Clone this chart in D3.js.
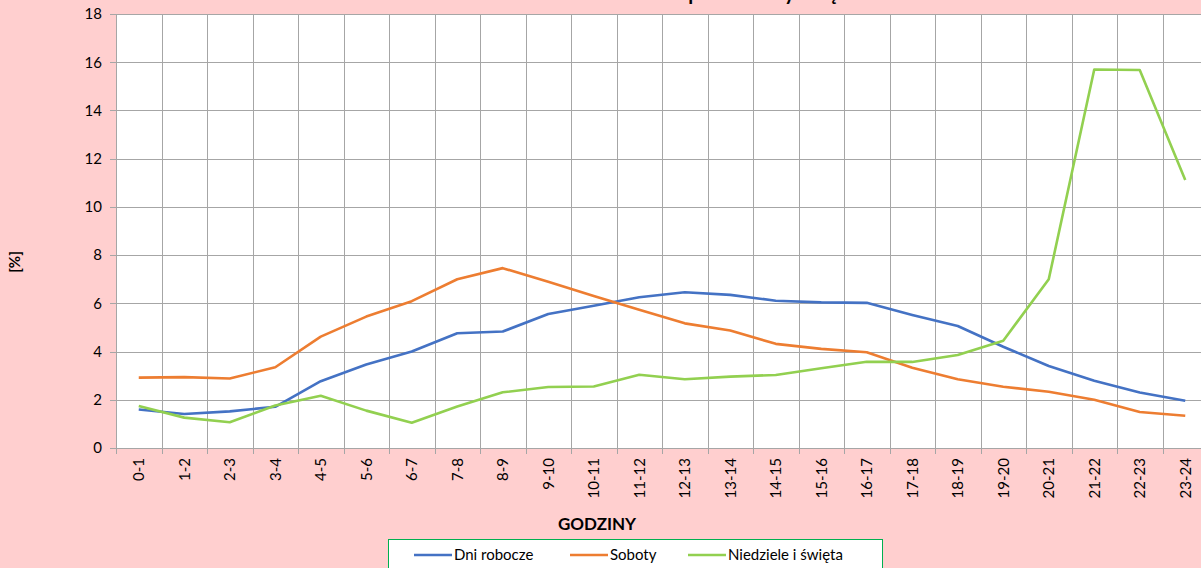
<!DOCTYPE html>
<html>
    <head>
        <meta http-equiv="Content-Type" content="text/html;charset=utf-8">
        <script src="https://d3js.org/d3.v7.min.js"></script>
        <title>Rozkład godzinowy ruchu</title>
        <style>
            body { margin:0; background:#ffcfcf; overflow:hidden; }
            svg { display:block; font-family: Lato, "Open Sans", sans-serif; }
        </style>
    </head>
    <body>
        <svg width="1201" height="568"></svg>
    </body>
    <script>
        // godziny doby
        var hours = ["0-1","1-2","2-3","3-4","4-5","5-6","6-7","7-8","8-9","9-10","10-11","11-12",
                     "12-13","13-14","14-15","15-16","16-17","17-18","18-19","19-20","20-21","21-22","22-23","23-24"];

        var dniRobocze = [1.6,1.41,1.52,1.71,2.77,3.46,4.0,4.76,4.83,5.56,5.9,6.25,
                          6.46,6.35,6.11,6.04,6.02,5.52,5.06,4.2,3.4,2.79,2.3,1.96];
        var soboty     = [2.92,2.94,2.88,3.35,4.62,5.45,6.09,7.0,7.46,6.9,6.3,5.73,
                          5.17,4.87,4.32,4.11,3.97,3.33,2.85,2.54,2.33,2.0,1.49,1.34];
        var niedziele  = [1.74,1.26,1.07,1.76,2.17,1.55,1.05,1.72,2.31,2.53,2.55,3.04,
                          2.85,2.96,3.03,3.31,3.58,3.57,3.86,4.45,7.0,15.7,15.68,11.12];

        var seriesNames = ["Dni robocze","Soboty","Niedziele i święta"];
        var seriesColors = ["#4472c4","#ed7d31","#92d050"];
        var series = [dniRobocze, soboty, niedziele];
        var yTicks = [0,2,4,6,8,10,12,14,16,18];

        var svg = d3.select("svg");

        var plotL = 116, plotR = 1208, plotT = 14, plotB = 448;

        var x = d3.scaleBand()
            .domain(hours)
            .range([plotL, plotR])
            .padding(0);

        var y = d3.scaleLinear()
            .domain([0, 18])
            .range([plotB, plotT]);

        // tytul (prawie caly poza kadrem, widac tylko ogonki liter)
        svg.append("text")
            .attr("x", 612)
            .attr("y", 0)
            .style("font-weight","bold")
            .style("font-size","20px")
            .text("Rozkład procentowy natężenia ruchu");

        // obszar wykresu
        svg.append("rect")
            .attr("x", plotL)
            .attr("y", plotT)
            .attr("width", plotR - plotL)
            .attr("height", plotB - plotT)
            .attr("fill", "#ffffff");

        var grid = svg.append("g").attr("class","grid");

        grid.selectAll("line.h")
            .data(yTicks)
            .enter()
            .append("line")
                .attr("class","h")
                .attr("x1", plotL - 6)
                .attr("x2", plotR)
                .attr("y1", function(d){ return Math.round(y(d)) + 0.5; })
                .attr("y2", function(d){ return Math.round(y(d)) + 0.5; })
                .attr("stroke", "#a6a6a6")
                .attr("stroke-width", 1);

        grid.selectAll("line.v")
            .data(hours)
            .enter()
            .append("line")
                .attr("class","v")
                .attr("x1", function(d){ return Math.round(x(d)) + 0.5; })
                .attr("x2", function(d){ return Math.round(x(d)) + 0.5; })
                .attr("y1", plotT)
                .attr("y2", plotB + 6)
                .attr("stroke", "#a6a6a6")
                .attr("stroke-width", 1);

        // os Y
        var yAxis = svg.append("g")
            .attr("transform", "translate(" + (plotL - 14) + ",0)")
            .call(d3.axisLeft(y).tickValues(yTicks).tickSize(0).tickPadding(0));
        yAxis.select(".domain").remove();
        yAxis.selectAll("text")
            .style("font-size","15px")
            .style("font-family","Lato, 'Open Sans', sans-serif")
            .attr("fill","#000");

        // os X
        var xAxis = svg.append("g")
            .attr("transform", "translate(0," + (plotB + 10) + ")")
            .call(d3.axisBottom(x).tickSize(0).tickPadding(0));
        xAxis.select(".domain").remove();
        xAxis.selectAll("text")
            .style("font-size","15px")
            .style("font-family","Lato, 'Open Sans', sans-serif")
            .attr("fill","#000")
            .attr("text-anchor","end")
            .attr("y", 0)
            .attr("dy","0.35em")
            .attr("transform","rotate(-90)");

        // linie serii
        var line = d3.line()
            .x(function(d, i){ return x(hours[i]) + x.bandwidth() / 2; })
            .y(function(d){ return y(d); });

        svg.append("g")
            .selectAll("path")
            .data(series)
            .enter()
            .append("path")
                .attr("d", line)
                .attr("fill","none")
                .attr("stroke", function(d, i){ return seriesColors[i]; })
                .attr("stroke-width", 2.6)
                .attr("stroke-linejoin","round");

        // tytuly osi
        svg.append("text")
            .attr("x", 597)
            .attr("y", 530)
            .attr("text-anchor","middle")
            .style("font-weight","bold")
            .style("font-size","17px")
            .text("GODZINY");

        svg.append("text")
            .attr("transform","translate(20,262) rotate(-90)")
            .attr("text-anchor","middle")
            .style("font-weight","bold")
            .style("font-size","15px")
            .text("[%]");

        // legenda
        var legend = svg.append("g");
        legend.append("rect")
            .attr("x", 388.5)
            .attr("y", 539.5)
            .attr("width", 494)
            .attr("height", 40)
            .attr("fill","#ffffff")
            .attr("stroke","#00b050")
            .attr("stroke-width",1);

        var legendX = [414, 570, 688];
        var items = legend.selectAll("g.item")
            .data(seriesNames)
            .enter()
            .append("g")
                .attr("class","item")
                .attr("transform", function(d, i){ return "translate(" + legendX[i] + ",555)"; });

        items.append("line")
            .attr("x1", 0)
            .attr("x2", 38)
            .attr("stroke", function(d, i){ return seriesColors[i]; })
            .attr("stroke-width", 2.6);

        items.append("text")
            .attr("x", 40)
            .attr("dy","0.35em")
            .style("font-size","15px")
            .text(function(d){ return d; });
    </script>
</html>
